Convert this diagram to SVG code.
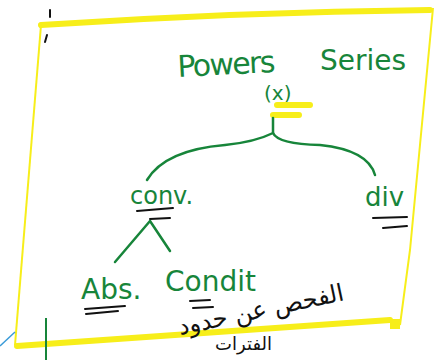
<svg xmlns="http://www.w3.org/2000/svg" width="441" height="360" viewBox="0 0 441 360">
<style>
.g{fill:#17853a;font-family:"DejaVu Sans",sans-serif;}
.gl{fill:none;stroke:#17853a;stroke-width:2.5;stroke-linecap:round;}
.bk{fill:none;stroke:#111;stroke-width:2;stroke-linecap:round;}
.yt{fill:none;stroke:#f7ee1a;stroke-width:6;stroke-linecap:round;}
.yn{fill:none;stroke:#f7ee1a;stroke-width:2;}
.ar{fill:#111;font-family:"DejaVu Sans",sans-serif;}
</style>
<rect width="441" height="360" fill="#fff"/>
<g id="frame">
<path class="yt" d="M41 25 Q240 12 430 10"/>
<path class="yn" d="M433 8 L410 250 L400 325"/>
<path class="yn" d="M41 25 L15 345"/>
<path class="yt" d="M17 346 Q200 333 390 320"/>
<rect x="390" y="319" width="10" height="10" fill="#f7ee1a"/>
<path class="bk" d="M50 10 L50 17 M47 35 L45 42" stroke-width="1.2"/>
<path d="M0 346 L15 332" stroke="#3a9bd8" stroke-width="1.5" fill="none"/>
<path d="M46 318 L46 360" stroke="#17853a" stroke-width="2" fill="none"/>
</g>
<g id="root">
<text class="g" x="178" y="77" font-size="30" transform="rotate(-3 178 77)" textLength="98">Powers</text>
<text class="g" x="320" y="70" font-size="28" textLength="86">Series</text>
<text class="g" x="264" y="100" font-size="20">(x)</text>
<path class="yt" d="M277 105 L310 105 M273 115 L299 115"/>
</g>
<g id="conv">
<text class="g" x="130" y="204" font-size="24">conv.</text>
<path class="bk" d="M137 211 L173 208 M150 219 L170 218"/>
</g>
<g id="div">
<text class="g" x="365" y="206" font-size="26">div</text>
<path class="bk" d="M373 218 L407 217 M383 228 L407 226"/>
</g>
<g id="abs">
<text class="g" x="81" y="299" font-size="28">Abs.</text>
<path class="bk" d="M85 309 L125 306 M86 314 L118 311"/>
</g>
<g id="condit">
<text class="g" x="165" y="291" font-size="28">Condit</text>
<path class="bk" d="M190 301 L210 300 M193 308 L213 307"/>
</g>
<g id="note">
<text class="ar" x="345" y="300" font-size="24" text-anchor="end" transform="rotate(-12 345 300)">الفحص عن حدود</text>
<text class="ar" x="272" y="350" font-size="18" text-anchor="end">الفترات</text>
</g>
<g id="connectors">
<path class="gl" d="M273 118 L273 133 Q255 142 225 145 Q165 150 147 180"/>
<path class="gl" d="M273 133 Q278 144 320 145 Q368 150 375 175"/>
<path class="gl" d="M150 221 L115 262 M150 221 L170 251"/>
</g>
</svg>
